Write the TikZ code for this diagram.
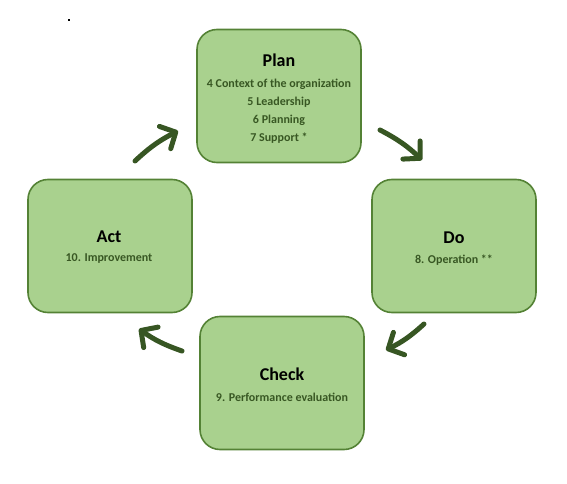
\documentclass[tikz,border=0pt]{standalone}
\usepackage{fontspec}
\setmainfont{Carlito}
\usetikzlibrary{arrows.meta}
\definecolor{boxfill}{HTML}{A9D18E}
\definecolor{boxline}{HTML}{548235}
\definecolor{subtxt}{HTML}{385723}
\definecolor{arrowc}{HTML}{375623}
\begin{document}
\begin{tikzpicture}[x=1pt,y=-1pt,
  stage/.style={draw=boxline,line width=1.6pt,fill=boxfill,rounded corners=20pt,
    minimum width=164pt,minimum height=133pt,inner sep=0pt},
  title/.style={font=\bfseries\fontsize{18}{20}\selectfont,text=black},
  sub/.style={font=\bfseries\fontsize{12}{18}\selectfont,text=subtxt,align=center},
  cyc/.style={draw=arrowc,line width=5pt,line cap=round,
    -{Straight Barb[length=12pt,width=25pt,line cap=round,round]}}]
\useasboundingbox (0,0) rectangle (567,484);
\fill[black] (68,19) rectangle (70,21);
\node[stage] (plan) at (279,96) {};
\node[stage] (do) at (454,246) {};
\node[stage] (act) at (110,246) {};
\node[stage] (check) at (282,383) {};
\node[title] (plant) at (279,60) {Plan};
\node[sub,anchor=north] (plans) at (279,76) {4 Context of the organization\\5 Leadership\\6 Planning\\7 Support *};
\node[title] (dot) at (454,238) {Do};
\node[sub] (dos) at (454,260) {8. Operation **};
\node[title] (actt) at (109,237) {Act};
\node[sub] (acts) at (109,259) {10. Improvement};
\node[title] (checkt) at (282,374) {Check};
\node[sub] (checks) at (282,397) {9. Performance evaluation};
\coordinate (a1s) at (135,161);
\coordinate (a1e) at (178,131);
\coordinate (a2s) at (380,130);
\coordinate (a2e) at (422,160);
\coordinate (a3s) at (424,324);
\coordinate (a3e) at (386,350);
\coordinate (a4s) at (182,351);
\coordinate (a4e) at (139,329);
\draw[cyc] (a1s) to[bend left=8] (a1e);
\draw[cyc] (a2s) to[bend left=8] (a2e);
\draw[cyc] (a3s) to[bend left=8] (a3e);
\draw[cyc] (a4s) to[bend left=8] (a4e);
\end{tikzpicture}
\end{document}
